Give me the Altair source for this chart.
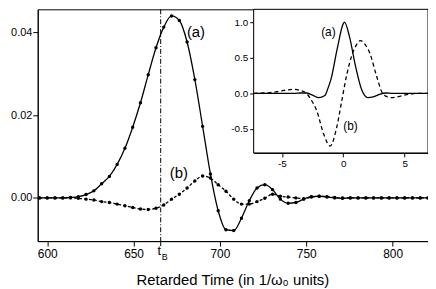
import altair as alt
import pandas as pd

# ---- main panel data (retarded time, sampled points) ----
t = [595.5, 600.0, 604.5, 609.0, 613.5, 618.0, 622.5, 627.0, 631.5, 636.0,
     640.5, 645.0, 649.5, 654.0, 658.5, 663.0, 667.5, 672.0, 676.5, 681.0,
     685.5, 690.0, 694.5, 699.0, 703.5, 708.0, 712.5, 717.0, 721.5, 726.0,
     730.5, 735.0, 739.5, 744.0, 748.5, 753.0, 757.5, 762.0, 766.5, 771.0,
     775.5, 780.0, 784.5, 789.0, 793.5, 798.0, 802.5, 807.0, 811.5, 816.0, 820.5]
curve_a = [0, 0, 0, 0, 0.0001, 0.0003, 0.0008, 0.0017, 0.0034, 0.0052,
           0.0081, 0.0120, 0.0171, 0.0230, 0.0298, 0.0363, 0.0413, 0.0440, 0.0429, 0.0377,
           0.0286, 0.0173, 0.0058, -0.0031, -0.0077, -0.0079, -0.0049, -0.0007, 0.0024, 0.0032,
           0.0020, -0.0003, -0.0013, -0.0011, -0.0003, 0.0003, 0.0004, 0.0002, 0.0, -0.0001,
           0, 0, 0, 0, 0, 0, 0, 0, 0, 0, 0]
curve_b = [0, 0, 0, 0, 0, -0.0001, -0.0003, -0.0005, -0.0009, -0.0011,
           -0.0015, -0.0019, -0.0023, -0.0027, -0.0028, -0.0025, -0.0017, -0.0003, 0.0009, 0.0024,
           0.0041, 0.0053, 0.0048, 0.0032, 0.0016, -0.0003, -0.0015, -0.0015, -0.0009, -0.0001,
           0.0009, 0.0004, 0.0002, 0.0000, -0.0002, 0.0002, 0.0004, 0.0003, 0.0001, 0,
           0, 0, 0, 0, 0, 0, 0, 0, 0, 0, 0]
t_B = [665.7]
x_ticks = [600, 650, 700, 750, 800]
y_ticks = [0, 0.02, 0.04]

# ---- inset data ----
ins_xa = [-7.3, -6, -5, -4, -3.5, -3, -2.5, -2, -1.5, -1.25, -1, -0.5, 0, 0.1,
          0.5, 1, 1.5, 2, 2.5, 3, 3.5, 4, 5, 6, 6.9]
ins_a = [0, 0, 0, 0, 0.005, 0.005, -0.025, -0.06, -0.03, 0.07, 0.2, 0.62, 0.98, 1.0,
         0.8, 0.38, 0.05, -0.06, -0.045, -0.01, 0.005, 0, 0, 0, 0]
ins_xb = [-7.3, -6.5, -6, -5.5, -5, -4.5, -4, -3.5, -3, -2.7, -2.15, -1.6, -1.07, -0.54,
          -0.13, 0.27, 0.67, 1.0, 1.4, 1.8, 2.15, 2.7, 3.2, 3.6, 4.0, 4.5, 5, 5.5, 6, 6.9]
ins_b = [0, 0.005, 0.01, 0.02, 0.035, 0.05, 0.055, 0.04, 0.0, -0.07, -0.25, -0.57, -0.74, -0.48,
         -0.11, 0.25, 0.52, 0.66, 0.74, 0.68, 0.57, 0.25, 0.0, -0.05, -0.06, -0.045, -0.025, -0.01, 0, 0]
ins_x_ticks = [-5, 0, 5]
ins_y_ticks = [-0.5, 0, 0.5, 1]

W, H = 394, 234
IL, IR, IB = 218, 394, 145   # inset box in plot pixels
FONT = "Liberation Sans"

xs = alt.Scale(domain=[594.5, 820.5], nice=False, zero=False)
ys = alt.Scale(domain=[-0.01045, 0.0456], nice=False, zero=False)
xax = alt.Axis(values=x_ticks, format="d", title=None, grid=False, tickSize=5,
               labelFontSize=12, labelPadding=3)
yax = alt.Axis(values=y_ticks, format=".2f", title=None, grid=False, tickSize=5,
               labelFontSize=11, labelPadding=1)

def X(f):
    return alt.X(f, type="quantitative", scale=xs, axis=xax)

def Y(f):
    return alt.Y(f, type="quantitative", scale=ys, axis=yax)

main_df = pd.DataFrame({"t": t, "a": curve_a, "b": curve_b})
base = alt.Chart(main_df)
a_line = base.mark_line(color="black", strokeWidth=1.3, interpolate="monotone", clip=True).encode(x=X("t"), y=Y("a"))
a_pts = base.mark_circle(color="black", size=12, opacity=1, clip=True).encode(x=X("t"), y=Y("a"))
b_line = base.mark_line(color="black", strokeWidth=1.3, strokeDash=[3, 2], interpolate="monotone", clip=True).encode(x=X("t"), y=Y("b"))
b_pts = base.mark_circle(color="black", size=12, opacity=1, clip=True).encode(x=X("t"), y=Y("b"))

tb_df = pd.DataFrame({"t": t_B})
tb = alt.Chart(tb_df)
vline = tb.mark_rule(color="black", strokeWidth=1, strokeDash=[5, 2, 1, 2]).encode(x=X("t"))
tick = tb.mark_rule(color="black", strokeWidth=1).encode(x=X("t"), y=alt.value(H), y2=alt.value(H + 5))
t_txt = tb.mark_text(text="t", fontSize=13, align="center", baseline="alphabetic", dx=-1.5, font=FONT).encode(x=X("t"), y=alt.value(248))
b_txt = tb.mark_text(text="B", fontSize=9, align="left", baseline="alphabetic", dx=1, font=FONT).encode(x=X("t"), y=alt.value(253))

lab_df = pd.DataFrame({"t": [680.9, 671.0], "v": [0.0401, 0.0060], "s": ["(a)", "(b)"]})
labels = alt.Chart(lab_df).mark_text(fontSize=15, align="left", baseline="middle", font=FONT).encode(
    x=X("t"), y=Y("v"), text="s:N")

title_df = pd.DataFrame({"s": ["Retarded Time (in 1/ω₀ units)"]})
title = alt.Chart(title_df).mark_text(fontSize=15, align="center", baseline="middle", font=FONT).encode(
    x=alt.value(W / 2), y=alt.value(273), text="s:N")

main = alt.layer(a_line, a_pts, b_line, b_pts, vline, tick, t_txt, b_txt, labels, title)

# ---- inset ----
ixs = alt.Scale(domain=[-7.3, 6.9], range=[IL, IR], nice=False, zero=False)
iys = alt.Scale(domain=[-0.837, 1.18], range=[IB, 0], nice=False, zero=False)
ixax = alt.Axis(values=ins_x_ticks, orient="bottom", offset=-(H - IB), grid=False, title=None,
                tickSize=4, labelFontSize=10, labelPadding=2,
                labelExpr="replace(datum.label, '\u2212', '-')")
iyax = alt.Axis(values=ins_y_ticks, format=".1f", orient="left", offset=-IL, grid=False, title=None,
                tickSize=4, labelFontSize=10, labelPadding=2,
                labelExpr="replace(datum.label, '\u2212', '-')")

def IX(f):
    return alt.X(f, type="quantitative", scale=ixs, axis=ixax)

def IY(f):
    return alt.Y(f, type="quantitative", scale=iys, axis=iyax)

frame = alt.Chart(pd.DataFrame({"d": [0]})).mark_rect(fill="white", stroke="black", strokeWidth=1).encode(
    x=alt.value(IL), x2=alt.value(IR), y=alt.value(0), y2=alt.value(IB))
ia = alt.Chart(pd.DataFrame({"x": ins_xa, "v": ins_a})).mark_line(
    color="black", strokeWidth=1.3, interpolate="monotone").encode(x=IX("x"), y=IY("v"))
ib = alt.Chart(pd.DataFrame({"x": ins_xb, "v": ins_b})).mark_line(
    color="black", strokeWidth=1.3, strokeDash=[4, 3], interpolate="monotone").encode(x=IX("x"), y=IY("v"))
ilab_a = alt.Chart(pd.DataFrame({"x": [-0.62], "v": [0.865], "s": ["(a)"]})).mark_text(
    fontSize=12, align="right", baseline="middle", font=FONT).encode(x=IX("x"), y=IY("v"), text="s:N")
ilab_b = alt.Chart(pd.DataFrame({"x": [0.0], "v": [-0.465], "s": ["(b)"]})).mark_text(
    fontSize=12, align="left", baseline="middle", font=FONT).encode(x=IX("x"), y=IY("v"), text="s:N")

inset = alt.layer(frame, ia, ib, ilab_a, ilab_b)

chart = alt.layer(main, inset).resolve_scale(x="independent", y="independent").properties(
    width=W, height=H, autosize="none",
    padding={"left": 30, "top": 0, "right": 0, "bottom": 46},
).configure_view(stroke="black", strokeWidth=1).configure_axis(
    domainColor="black", tickColor="black", labelColor="black", labelFont=FONT, domainWidth=1
).configure_text(color="black")

chart.save("out.html", embed_options={"renderer": "svg", "actions": False})
